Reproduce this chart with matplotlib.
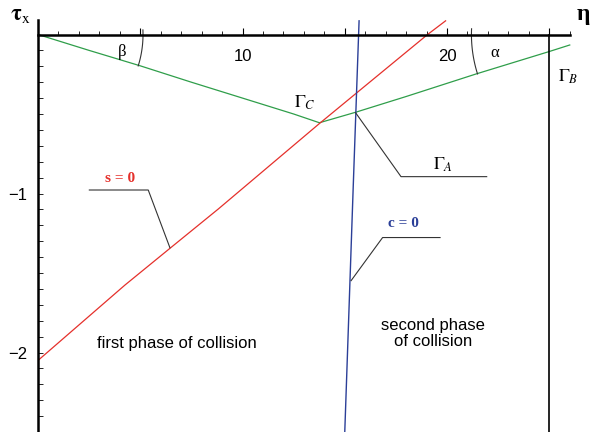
import numpy as np
import matplotlib.pyplot as plt

plt.rcParams['mathtext.fontset'] = 'stix'
plt.rcParams['font.family'] = ['Liberation Sans', 'DejaVu Sans']

# curves (eta, tau_x)
green_x = [0, 2.5, 5.0, 7.5, 10.0, 12.5, 13.76, 15.53, 18.0, 21.45, 25.0, 26.0]
green_y = [0, -0.10, -0.197, -0.30, -0.40, -0.50, -0.555, -0.489, -0.39, -0.247, -0.107, -0.066]

red_x = [0, 4.25, 6.45, 8.82, 13.76, 19.05, 19.93]
red_y = [-2.05, -1.576, -1.345, -1.097, -0.56, 0.0, 0.086]

blue_x = [15.0, 15.41, 15.70]
blue_y = [-2.5, -0.97, 0.086]

gamma_b = 25.0

xmajor = [5, 10, 15, 20, 25]
xlabels = ['', '10', '', '20', '']
ymajor = [-2, -1]
ylabels = ['\u22122', '\u22121']

GREEN = '#2f9e4a'
RED = '#e5302b'
BLUE = '#2b3f98'
LEAD = '#333333'

fig = plt.figure(figsize=(5.91, 4.32), dpi=100)
ax = fig.add_axes([38 / 591, 0, 553 / 591, 1])
ax.set_xlim(0, 27.04)
ax.set_ylim(-2.5, 0.217)

sx = 20.45  # px per unit x
sy = 159.0  # px per unit y

ax.plot(green_x, green_y, color=GREEN, lw=0.9)
ax.plot(red_x, red_y, color=RED, lw=0.9)
ax.plot(blue_x, blue_y, color=BLUE, lw=1.0)
ax.plot([gamma_b, gamma_b], [0, -2.5], color='black', lw=1.2)

# angle arcs
t = np.radians(np.linspace(-17.4, 2.5, 40))
ax.plot(105 * np.cos(t) / sx, 105 * np.sin(t) / sy, color=LEAD, lw=0.8)
t = np.radians(np.linspace(177.5, 197.5, 40))
ax.plot(27.6 + 131 * np.cos(t) / sx, 131 * np.sin(t) / sy, color=LEAD, lw=0.8)
ax.text(4.09, -0.107, 'β', fontsize=12, family='Liberation Serif', ha='center', va='center')
ax.text(22.35, -0.118, 'α', fontsize=12, family='Liberation Serif', ha='center', va='center')

# leaders
ax.plot([2.51, 5.39, 6.45], [-0.978, -0.978, -1.341], color=LEAD, lw=0.8)
ax.plot([15.31, 16.85, 19.66], [-1.548, -1.277, -1.277], color=LEAD, lw=0.8)
ax.plot([15.53, 17.75, 21.94], [-0.492, -0.894, -0.894], color=LEAD, lw=0.8)

ax.text(4.01, -0.904, 's = 0', color=RED, fontsize=11, weight='bold',
        family='Liberation Serif', ha='center', va='center')
ax.text(17.86, -1.187, 'c = 0', color=BLUE, fontsize=11, weight='bold',
        family='Liberation Serif', ha='center', va='center')
ax.text(13.06, -0.431, r'$\Gamma_C$', fontsize=13, ha='center', va='center')
ax.text(19.82, -0.821, r'$\Gamma_A$', fontsize=13, ha='center', va='center')
ax.text(25.93, -0.265, r'$\Gamma_B$', fontsize=13, ha='center', va='center')

ax.text(6.78, -1.942, 'first phase of collision', fontsize=12, ha='center', va='center')
ax.text(19.33, -1.879, 'second phase\nof collision', fontsize=12, ha='center',
        va='center', linespacing=1.1)

ax.text(-0.88, 0.123, r'$\mathbf{\tau}_{\mathrm{x}}$', fontsize=16, ha='center',
        va='center', clip_on=False)
ax.text(26.98, 0.125, 'η', fontsize=17, family='Liberation Serif', weight='bold',
        ha='right', va='center', clip_on=False)

# axes: top line at tau_x = 0, left line at eta = 0
for s in ['right', 'bottom']:
    ax.spines[s].set_visible(False)
ax.spines['top'].set_position(('data', 0))
ax.spines['top'].set_bounds(0, 26)
ax.spines['left'].set_bounds(-2.5, 0.09)
ax.spines['top'].set_linewidth(1.8)
ax.spines['left'].set_linewidth(1.8)

ax.xaxis.set_ticks_position('top')
ax.set_xticks(xmajor)
ax.set_xticklabels(xlabels)
ax.set_xticks(np.arange(1, 27), minor=True)
ax.tick_params(axis='x', which='major', direction='out', length=5, width=0.8,
               labelsize=12, pad=-26)
ax.tick_params(axis='x', which='minor', direction='out', length=3, width=0.6)

ax.set_yticks(ymajor)
ax.set_yticklabels(ylabels)
ax.set_yticks(np.arange(-2.4, 0, 0.1), minor=True)
ax.tick_params(axis='y', which='both', direction='in', length=3.5, width=0.6,
               labelsize=12, pad=8)

fig.savefig('out.png', dpi=100)
